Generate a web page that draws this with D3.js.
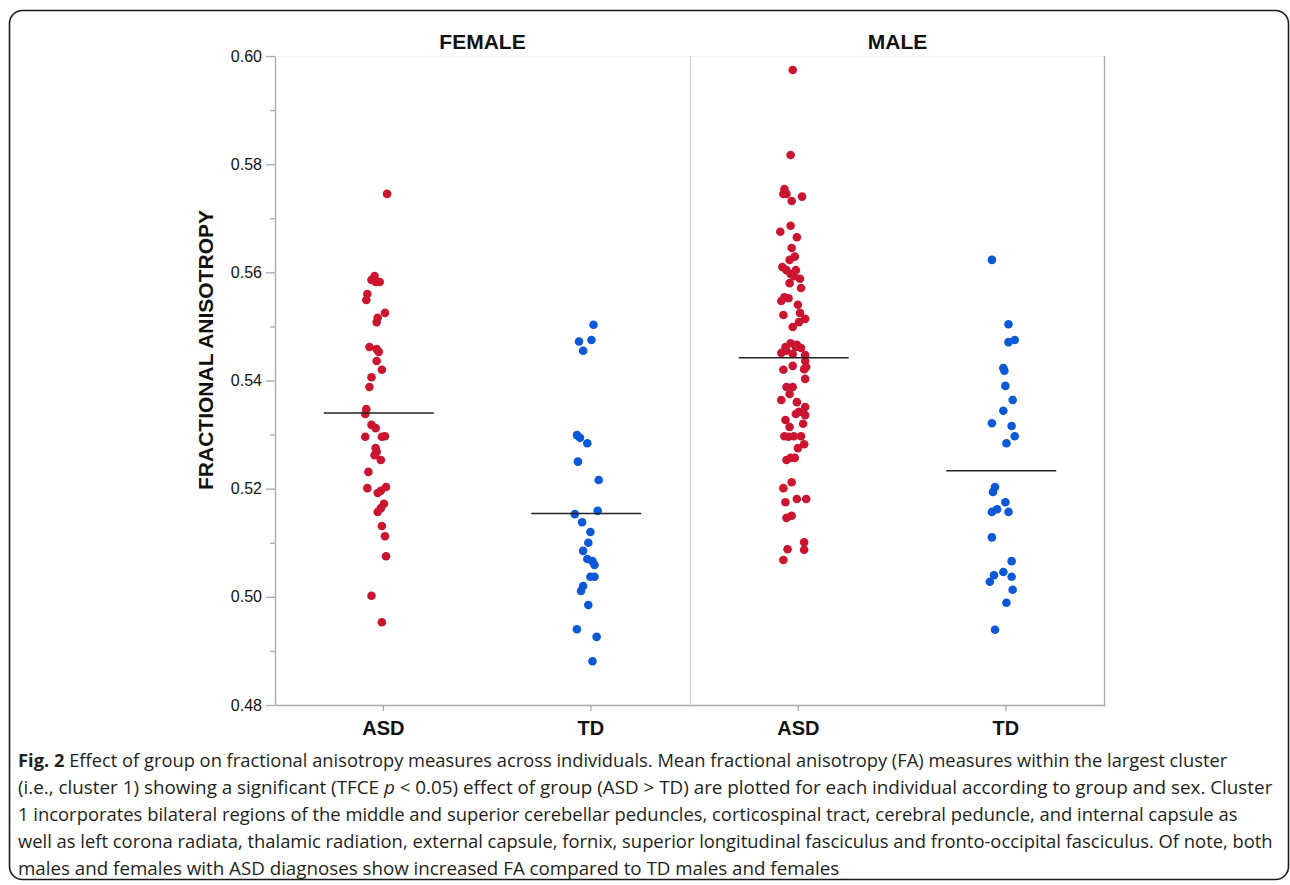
<!DOCTYPE html>
<html>
<head>
<meta charset="utf-8">
<script src="https://cdn.jsdelivr.net/npm/d3@7"></script>
<style>
  body { margin: 0; background: #fff; }
  svg { display: block; }
  .tick text { font-family: "Liberation Sans", Arial, sans-serif; }
</style>
</head>
<body>
<div class="chart"></div>
<script>
// values: [FA value, horizontal jitter (~px)]
var femaleASD = [[0.5745,4],[0.5593,-8],[0.5586,-11],[0.5582,-7],[0.5582,-3],[0.5560,-15],[0.5549,-16],
  [0.5525,2],[0.5516,-5],[0.5508,-6],[0.5462,-13],[0.5458,-6],[0.5453,-4],[0.5436,-6],[0.5420,-1],
  [0.5406,-11],[0.5388,-13],[0.5347,-16],[0.5338,-17],[0.5318,-11],[0.5312,-7],[0.5296,-17],[0.5296,-1],
  [0.5297,2],[0.5275,-7],[0.5268,-6],[0.5262,-8],[0.5253,-2],[0.5231,-14],[0.5201,-15],[0.5203,3],
  [0.5196,-2],[0.5192,-5],[0.5172,1],[0.5164,-2],[0.5157,-5],[0.5131,-1],[0.5112,2],[0.5075,3],
  [0.5002,-11],[0.4953,-1]];
var femaleTD = [[0.5503,3],[0.5475,1],[0.5472,-11],[0.5455,-7],[0.5299,-13],[0.5294,-10],[0.5284,-3],
  [0.5250,-12],[0.5216,8],[0.5153,-15],[0.5159,7],[0.5138,-8],[0.5120,0],[0.5100,-2],[0.5085,-7],
  [0.5070,-3],[0.5066,2],[0.5059,4],[0.5037,0],[0.5037,4],[0.5020,-7],[0.5011,-9],[0.4985,-2],
  [0.4940,-13],[0.4926,6],[0.4881,2]];
var maleASD = [[0.5974,-5],[0.5817,-7],[0.5754,-13],[0.5745,-14],[0.5745,-11],[0.5732,-6],[0.5740,4],
  [0.5686,-7],[0.5675,-17],[0.5665,-1],[0.5645,-6],[0.5629,-3],[0.5623,-8],[0.5610,-15],[0.5604,-11],
  [0.5604,-2],[0.5597,-7],[0.5593,-4],[0.5588,2],[0.5580,-8],[0.5571,3],[0.5554,-13],[0.5547,-16],
  [0.5552,-9],[0.5540,0],[0.5521,-14],[0.5525,2],[0.5514,7],[0.5508,1],[0.5499,-5],[0.5469,-7],
  [0.5462,-2],[0.5462,-12],[0.5460,3],[0.5466,-1],[0.5451,-16],[0.5455,-11],[0.5449,-5],[0.5447,7],
  [0.5436,7],[0.5420,-14],[0.5427,-5],[0.5421,6],[0.5425,8],[0.5403,7],[0.5388,-11],[0.5388,-5],
  [0.5375,-8],[0.5364,-16],[0.5360,-1],[0.5351,7],[0.5342,1],[0.5338,-2],[0.5336,7],[0.5327,-12],
  [0.5320,5],[0.5314,-8],[0.5297,-13],[0.5296,-9],[0.5297,-4],[0.5297,3],[0.5282,6],[0.5275,0],
  [0.5253,-11],[0.5257,-7],[0.5257,-3],[0.5212,-6],[0.5201,-14],[0.5175,-12],[0.5181,-1],[0.5181,8],
  [0.5146,-11],[0.5150,-6],[0.5101,6],[0.5087,6],[0.5088,-10],[0.5068,-14]];
var maleTD = [[0.5623,-13],[0.5504,3],[0.5471,3],[0.5475,9],[0.5423,-2],[0.5418,-1],[0.5390,0],
  [0.5364,7],[0.5344,-2],[0.5321,-13],[0.5316,6],[0.5297,9],[0.5284,1],[0.5203,-10],[0.5194,-12],
  [0.5175,0],[0.5162,-8],[0.5157,-13],[0.5157,3],[0.5110,-13],[0.5066,6],[0.5046,-2],[0.5040,-11],
  [0.5028,-15],[0.5037,6],[0.5013,7],[0.4989,1],[0.4939,-10]];

var sexes = ["FEMALE", "MALE"];
var groups = ["ASD", "TD"];
var means = {FEMALE: {ASD: 0.5340, TD: 0.5154}, MALE: {ASD: 0.5442, TD: 0.5233}};
var majorTicks = [0.48, 0.50, 0.52, 0.54, 0.56, 0.58, 0.60];
var minorTicks = [0.49, 0.51, 0.53, 0.55, 0.57, 0.59];

var caption = [
  [{t: "Fig. 2", b: 1}, {t: " Effect of group on fractional anisotropy measures across individuals. Mean fractional anisotropy (FA) measures within the largest cluster"}],
  [{t: "(i.e., cluster 1) showing a significant (TFCE "}, {t: "p", i: 1}, {t: " < 0.05) effect of group (ASD > TD) are plotted for each individual according to group and sex. Cluster"}],
  [{t: "1 incorporates bilateral regions of the middle and superior cerebellar peduncles, corticospinal tract, cerebral peduncle, and internal capsule as"}],
  [{t: "well as left corona radiata, thalamic radiation, external capsule, fornix, superior longitudinal fasciculus and fronto-occipital fasciculus. Of note, both"}],
  [{t: "males and females with ASD diagnoses show increased FA compared to TD males and females"}]
];
var captionWidths = [1210, 1255, 1220, 1255, 822];

var data = {FEMALE: {ASD: femaleASD, TD: femaleTD}, MALE: {ASD: maleASD, TD: maleTD}};

var W = 1290, H = 885;
var plotL = 275, plotR = 1105, plotT = 56, plotB = 705;
var red = "#cb1530", blue = "#0b58d8", grey = "#a9a9a9";
var font = '"Liberation Sans", Arial, Helvetica, sans-serif';

var svg = d3.select(".chart").append("svg")
  .attr("width", W).attr("height", H);

// rounded frame
svg.append("rect")
  .attr("x", 9.5).attr("y", 10.5)
  .attr("width", 1279).attr("height", 869)
  .attr("rx", 13)
  .attr("fill", "none").attr("stroke", "#1a1a1a").attr("stroke-width", 1.6);

var fx = d3.scaleBand().domain(sexes).range([plotL, plotR]);
var x = d3.scalePoint().domain(groups).range([0, fx.bandwidth()]).padding(0.5).align(0.52);
var y = d3.scaleLinear().domain([0.48, 0.60]).range([plotB, plotT]);
var jit = d3.scaleLinear().domain([-100, 100]).range([-x.step() / 2, x.step() / 2]);
var color = d3.scaleOrdinal().domain(groups).range([red, blue]);

// plot frame lines
svg.append("line").attr("x1", plotL).attr("x2", plotR).attr("y1", plotT + 0.5).attr("y2", plotT + 0.5)
  .attr("stroke", "#f2f2f2");
svg.append("line").attr("x1", plotR - 0.5).attr("x2", plotR - 0.5).attr("y1", plotT).attr("y2", plotB)
  .attr("stroke", grey).attr("stroke-width", 1.3);
svg.append("line").attr("x1", fx("MALE") + 0.5).attr("x2", fx("MALE") + 0.5).attr("y1", plotT).attr("y2", plotB)
  .attr("stroke", "#d6d6d6").attr("stroke-width", 1.2);

// y axis
var yMinor = svg.append("g").attr("transform", "translate(" + plotL + ",0)")
  .call(d3.axisLeft(y).tickValues(minorTicks).tickSize(5).tickFormat(""));
yMinor.select(".domain").remove();
yMinor.selectAll("line").attr("stroke", grey).attr("stroke-width", 1.3);

var yAxis = svg.append("g").attr("transform", "translate(" + plotL + ",0)")
  .call(d3.axisLeft(y).tickValues(majorTicks).tickSize(9).tickSizeOuter(0).tickPadding(4)
    .tickFormat(d3.format(".2f")));
yAxis.select(".domain").attr("stroke", grey).attr("stroke-width", 1.3);
yAxis.selectAll(".tick line").attr("stroke", grey).attr("stroke-width", 1.3);
yAxis.selectAll(".tick text").style("font-size", "16px").attr("fill", "#111");

svg.append("text")
  .attr("transform", "translate(213," + 350 + ") rotate(-90)")
  .attr("text-anchor", "middle")
  .style("font-family", font).style("font-weight", "bold").style("font-size", "21px")
  .attr("fill", "#111")
  .text("FRACTIONAL ANISOTROPY");

// panels
sexes.forEach(function(sex) {
  var g = svg.append("g").attr("transform", "translate(" + fx(sex) + ",0)");

  g.append("text")
    .attr("x", fx.bandwidth() / 2).attr("y", 49)
    .attr("text-anchor", "middle")
    .style("font-family", font).style("font-weight", "bold").style("font-size", "21px")
    .attr("fill", "#111")
    .text(sex);

  var xa = g.append("g").attr("transform", "translate(0," + plotB + ")")
    .call(d3.axisBottom(x).tickSize(6).tickSizeOuter(0).tickPadding(10));
  xa.select(".domain").attr("stroke", grey).attr("stroke-width", 1.3);
  xa.selectAll(".tick line").attr("stroke", grey).attr("stroke-width", 1.3);
  xa.selectAll(".tick text").style("font-size", "20px").style("font-weight", "bold").attr("fill", "#111");

  groups.forEach(function(grp) {
    g.append("g").selectAll("circle")
      .data(data[sex][grp])
      .enter().append("circle")
        .attr("cx", function(d) { return x(grp) + jit(d[1]); })
        .attr("cy", function(d) { return y(d[0]); })
        .attr("r", 4.3)
        .attr("fill", color(grp));

    g.append("line")
      .attr("x1", x(grp) + jit(-57)).attr("x2", x(grp) + jit(49))
      .attr("y1", y(means[sex][grp])).attr("y2", y(means[sex][grp]))
      .attr("stroke", "#222").attr("stroke-width", 1.6);
  });
});

// caption
var capFont = '"Open Sans", "Noto Sans", sans-serif';
caption.forEach(function(line, i) {
  var t = svg.append("text")
    .attr("x", 0).attr("y", 0)
    .style("font-family", capFont).style("font-size", "17.5px")
    .attr("fill", "#231f20");
  line.forEach(function(s) {
    t.append("tspan")
      .style("font-weight", s.b ? "bold" : "normal")
      .style("font-style", s.i ? "italic" : "normal")
      .text(s.t);
  });
  var len = t.node().getComputedTextLength();
  t.attr("transform", "translate(18," + (767 + i * 27) + ") scale(" + (captionWidths[i] / len) + ",1)");
});
</script>
</body>
</html>
